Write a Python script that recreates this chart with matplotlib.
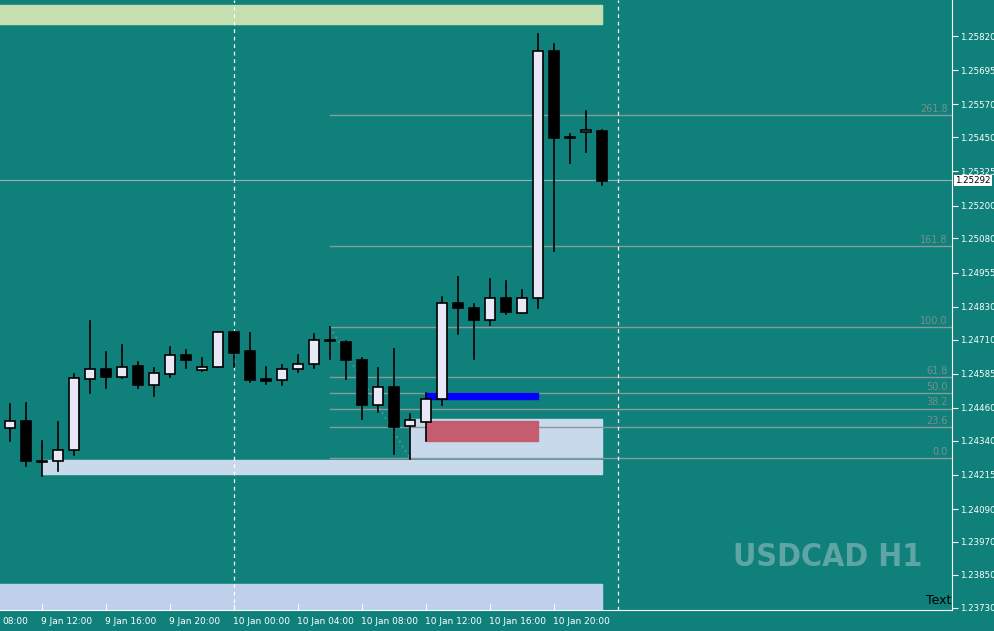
import matplotlib.pyplot as plt
import matplotlib.transforms as mtransforms
from matplotlib.patches import Rectangle

# hourly USDCAD candles, 9 Jan 10:00 onwards
opens = [1.24385, 1.24411, 1.24265, 1.24265, 1.24305, 1.24565, 1.24601, 1.24572, 1.24612, 1.24543,
         1.24583, 1.24652, 1.24598, 1.24609, 1.24737, 1.24667, 1.24565, 1.24561, 1.24601, 1.24620,
         1.24704, 1.24700, 1.24634, 1.24469, 1.24536, 1.24393, 1.24407, 1.24491, 1.24843, 1.24824,
         1.24781, 1.24861, 1.24806, 1.24861, 1.25765, 1.25447, 1.25469, 1.25472]
highs = [1.24473, 1.24477, 1.24338, 1.24407, 1.24583, 1.24777, 1.24663, 1.24689, 1.24627, 1.24605,
         1.24682, 1.24671, 1.24641, 1.24737, 1.24737, 1.24733, 1.24609, 1.24616, 1.24652, 1.24729,
         1.24755, 1.24704, 1.24641, 1.24605, 1.24674, 1.24437, 1.24513, 1.24865, 1.24938, 1.24839,
         1.24931, 1.24923, 1.24890, 1.25827, 1.25791, 1.25461, 1.25546, 1.25476]
lows = [1.24341, 1.24246, 1.24213, 1.24228, 1.24287, 1.24513, 1.24532, 1.24568, 1.24532, 1.24502,
        1.24572, 1.24605, 1.24594, 1.24609, 1.24609, 1.24554, 1.24546, 1.24543, 1.24590, 1.24605,
        1.24638, 1.24565, 1.24418, 1.24444, 1.24290, 1.24272, 1.24341, 1.24469, 1.24729, 1.24638,
        1.24762, 1.24803, 1.24806, 1.24824, 1.25033, 1.25355, 1.25395, 1.25275]
closes = [1.24411, 1.24265, 1.24261, 1.24305, 1.24568, 1.24601, 1.24572, 1.24609, 1.24543, 1.24587,
          1.24652, 1.24634, 1.24609, 1.24737, 1.24660, 1.24561, 1.24557, 1.24601, 1.24620, 1.24707,
          1.24704, 1.24634, 1.24469, 1.24536, 1.24389, 1.24415, 1.24491, 1.24843, 1.24824, 1.24781,
          1.24861, 1.24810, 1.24861, 1.25765, 1.25447, 1.25447, 1.25476, 1.25289]

price_ticks = [1.25820, 1.25695, 1.25570, 1.25450, 1.25325, 1.25200, 1.25080, 1.24955, 1.24830,
               1.24710, 1.24585, 1.24460, 1.24340, 1.24215, 1.24090, 1.23970, 1.23850, 1.23730]
time_idx = [2, 6, 10, 14, 18, 22, 26, 30, 34]
time_labels = ['9 Jan 12:00', '9 Jan 16:00', '9 Jan 20:00', '10 Jan 00:00', '10 Jan 04:00',
               '10 Jan 08:00', '10 Jan 12:00', '10 Jan 16:00', '10 Jan 20:00']

fib_levels = ['261.8', '161.8', '100.0', '61.8', '50.0', '38.2', '23.6', '0.0']
fib_prices = [1.25531, 1.25051, 1.24755, 1.24572, 1.24513, 1.24458, 1.24389, 1.24276]
last_price = 1.25292

bg = '#10817a'
fig = plt.figure(figsize=(9.94, 6.31), dpi=100, facecolor=bg)
ax = fig.add_axes([0, 21 / 631, 952 / 994, 610 / 631], facecolor=bg)
ax.set_xlim(-0.625, 58.875)
ax.set_ylim(1.237212, 1.259518)

# zones
ax.add_patch(Rectangle((-1, 1.25864), 38.0, 0.0007, color='#c5dfb0', zorder=1))
ax.add_patch(Rectangle((-1, 1.23723), 38.0, 0.00092, color='#bed0ea', zorder=1))
ax.add_patch(Rectangle((2, 1.24217), 35.0, 0.00051, color='#c9d9ec', zorder=1))
ax.add_patch(Rectangle((25, 1.24276), 12.0, 0.00143, color='#c9d9ec', zorder=1))
ax.add_patch(Rectangle((26, 1.24338), 7, 0.00073, color='#c55c6f', zorder=2))
ax.add_patch(Rectangle((26, 1.24491), 7, 0.00022, color='#0000ff', zorder=2))

# fibonacci levels
for lvl, p in zip(fib_levels, fib_prices):
    ax.plot([20, 60], [p, p], color='#8a9a9a', lw=1, zorder=1.5)
    ax.text(58.6, p + 0.00004, lvl, color='#7a8e8e', fontsize=7, ha='right', va='bottom')
ax.plot([20, 25], [fib_prices[2], fib_prices[-1]], color='#8a9a9a', lw=1, ls=(0, (1, 3)), zorder=1.5)

ax.axhline(last_price, color='#9ab0b0', lw=0.8, zorder=1.5)
for xv in (14, 38):
    ax.axvline(xv, color='white', lw=0.9, ls=(0, (3, 3)), zorder=1.6)

# candles
for i, (o, h, l, c) in enumerate(zip(opens, highs, lows, closes)):
    ax.plot([i, i], [l, h], color='black', lw=1.2, zorder=3)
    lo, hi = min(o, c), max(o, c)
    face = '#e8e8f8' if c >= o else 'black'
    ax.add_patch(Rectangle((i - 0.32, lo), 0.64, max(hi - lo, 0.00003), facecolor=face,
                           edgecolor='black', lw=1.2, zorder=4))

ax.text(51.1, 1.23913, 'USDCAD H1', color='#5fa5a5', fontsize=23, fontweight='bold',
        fontstretch='condensed', family='DejaVu Sans', ha='center', va='center')
ax.text(58.85, 1.23732, 'Text', color='black', fontsize=9, ha='right', va='bottom')

# axes styling
for s in ('left', 'top'):
    ax.spines[s].set_visible(False)
for s in ('right', 'bottom'):
    ax.spines[s].set_color('white')
ax.yaxis.tick_right()
ax.set_yticks(price_ticks)
ax.set_yticklabels(['%.5f' % p for p in price_ticks])
ax.tick_params(axis='y', colors='white', labelsize=6.2, length=4, pad=1.5)
ax.set_xticks(time_idx)
ax.set_xticklabels([])
ax.tick_params(axis='x', colors='white', length=4, direction='in')
trans = mtransforms.blended_transform_factory(ax.transData, ax.transAxes)
for xi, lab in zip(time_idx, time_labels):
    ax.text(xi - 0.05, -0.012, lab, transform=trans, color='white', fontsize=6.5, ha='left', va='top')
ax.text(0.002, -0.012, '08:00', transform=ax.transAxes, color='white', fontsize=6.5, ha='left', va='top')
ax.text(1.003, last_price, '%.5f' % last_price, transform=ax.get_yaxis_transform(), color='black',
        fontsize=6.2, ha='left', va='center', zorder=10,
        bbox=dict(boxstyle='square,pad=0.15', facecolor='white', edgecolor='none'))

fig.savefig('out.png', dpi=100, facecolor=bg)
